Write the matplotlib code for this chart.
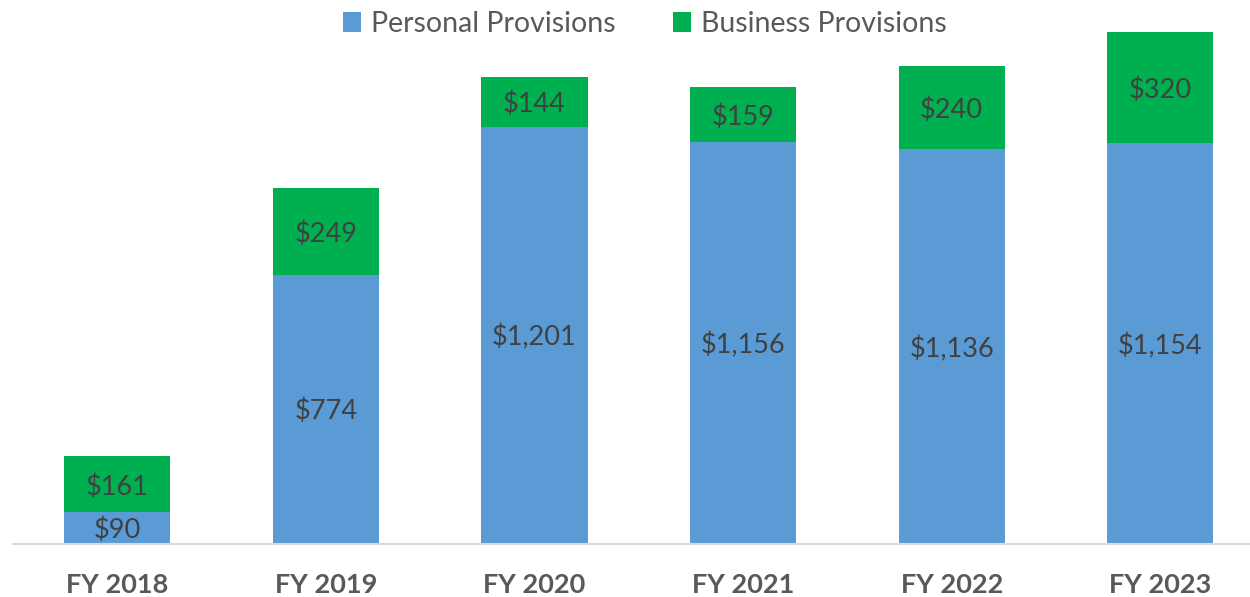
import matplotlib
matplotlib.use('Agg')
import matplotlib.pyplot as plt

# Data
years = ['FY 2018', 'FY 2019', 'FY 2020', 'FY 2021', 'FY 2022', 'FY 2023']
personal = [90, 774, 1201, 1156, 1136, 1154]
business = [161, 249, 144, 159, 240, 320]

blue = '#5B9BD5'
green = '#00B050'

plt.rcParams['font.family'] = ['Lato', 'DejaVu Sans']

fig = plt.figure(figsize=(12.5, 5.97), dpi=100)
ax = fig.add_axes([13 / 1250, 53.5 / 597, 1 - 13 / 1250, 543.5 / 597])

x = range(len(years))
ax.bar(x, personal, width=0.51, color=blue, label='Personal Provisions')
ax.bar(x, business, width=0.51, bottom=personal, color=green,
       label='Business Provisions')

# value labels centred in each segment
for i in x:
    ax.text(i, personal[i] / 2, '${:,}'.format(personal[i]), ha='center',
            va='center_baseline', fontsize=19.5, color='#404040')
    ax.text(i, personal[i] + business[i] / 2, '${:,}'.format(business[i]),
            ha='center', va='center_baseline', fontsize=19.5, color='#404040')

ax.set_xlim(-0.5, 5.43)
ax.set_ylim(0, 1566)
ax.set_xticks(list(x))
ax.set_xticklabels(years, fontsize=19.5, fontweight='bold', color='#595959')
ax.tick_params(axis='x', length=0, pad=21)
ax.set_yticks([])
for s in ['top', 'right', 'left']:
    ax.spines[s].set_visible(False)
ax.spines['bottom'].set_color('#d9d9d9')
ax.spines['bottom'].set_linewidth(1.5)

leg = fig.legend(loc='center', bbox_to_anchor=(645 / 1250, 1 - 24 / 597),
                 ncol=2, frameon=False, fontsize=20.5, handlelength=0.65,
                 handleheight=0.65, handletextpad=0.35, columnspacing=2.0)
for t in leg.get_texts():
    t.set_color('#595959')

fig.savefig('out.png', dpi=100)
